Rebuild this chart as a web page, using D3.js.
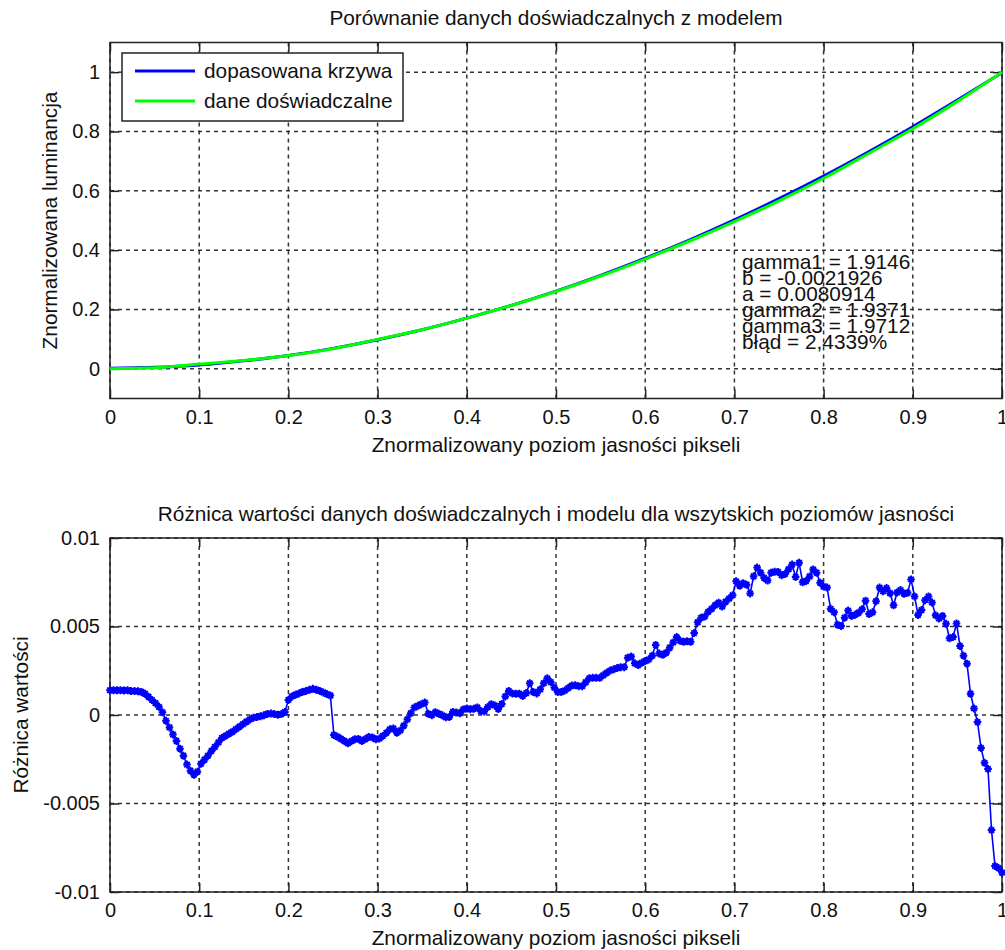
<!DOCTYPE html>
<html>
<head>
<meta charset="utf-8">
<script src="https://cdn.jsdelivr.net/npm/d3@7"></script>
<style>
html,body{margin:0;padding:0;background:#fff;}
svg{display:block;}
text{font-family:"Liberation Sans",Arial,Helvetica,sans-serif;fill:#111;}
</style>
</head>
<body>
<svg id="chart" width="1005" height="950"></svg>
<script>
// ---------- DATA ----------
const title1 = "Porównanie danych doświadczalnych z modelem";
const title2 = "Różnica wartości danych doświadczalnych i modelu dla wszytskich poziomów jasności";
const xLabel = "Znormalizowany poziom jasności pikseli";
const yLabel1 = "Znormalizowana luminancja";
const yLabel2 = "Różnica wartości";
const legendLabels = ["dopasowana krzywa", "dane doświadczalne"];
const annotation = ["gamma1 = 1.9146", "b = -0.0021926", "a = 0.0080914", "gamma2 = 1.9371", "gamma3 = 1.9712", "błąd = 2,4339%"];

const xTicks = [0, 0.1, 0.2, 0.3, 0.4, 0.5, 0.6, 0.7, 0.8, 0.9, 1];
const xTickLabels = ["0", "0.1", "0.2", "0.3", "0.4", "0.5", "0.6", "0.7", "0.8", "0.9", "1"];
const y1Ticks = [0, 0.2, 0.4, 0.6, 0.8, 1];
const y1TickLabels = ["0", "0.2", "0.4", "0.6", "0.8", "1"];
const y2Ticks = [-0.01, -0.005, 0, 0.005, 0.01];
const y2TickLabels = ["-0.01", "-0.005", "0", "0.005", "0.01"];

// top plot: sampled every 0.05
const curveX = [0, 0.05, 0.1, 0.15, 0.2, 0.25, 0.3, 0.35, 0.4, 0.45, 0.5, 0.55, 0.6, 0.65, 0.7, 0.75, 0.8, 0.85, 0.9, 0.95, 1];
const fittedCurve = [0.002, 0.005, 0.013, 0.027, 0.045, 0.069, 0.098, 0.132, 0.171, 0.214, 0.262, 0.315, 0.373, 0.435, 0.502, 0.574, 0.650, 0.731, 0.816, 0.906, 0.998];
const measuredCurve = [0.0006, 0.0038, 0.016, 0.0281, 0.0448, 0.0679, 0.0993, 0.1315, 0.171, 0.2136, 0.2607, 0.3129, 0.3701, 0.4309, 0.4962, 0.5662, 0.6424, 0.7252, 0.8091, 0.9015, 1.0];

// bottom plot: one value per pixel level 0..255
const pixelLevels = d3.range(256);
const difference = [
 0.00140, 0.00140, 0.00140, 0.00140, 0.00138, 0.00140, 0.00135, 0.00135, 0.00134, 0.00130, 0.00120, 0.00103, 0.00085, 0.00067, 0.00046, 0.00015,
 -0.00033, -0.00070, -0.00110, -0.00147, -0.00190, -0.00230, -0.00280, -0.00315, -0.00337, -0.00320, -0.00275, -0.00253, -0.00230, -0.00203, -0.00180, -0.00155,
 -0.00130, -0.00118, -0.00106, -0.00094, -0.00080, -0.00066, -0.00052, -0.00038, -0.00025, -0.00015, -0.00012, -0.00007, -0.00002, 0.00006, 0.00009, 0.00005,
 0.00002, 0.00005, 0.00017, 0.00085, 0.00105, 0.00115, 0.00122, 0.00130, 0.00136, 0.00142, 0.00148, 0.00143, 0.00136, 0.00127, 0.00118, 0.00110,
 -0.00113, -0.00123, -0.00134, -0.00147, -0.00160, -0.00148, -0.00137, -0.00135, -0.00147, -0.00136, -0.00124, -0.00127, -0.00137, -0.00133, -0.00118, -0.00101,
 -0.00081, -0.00076, -0.00100, -0.00087, -0.00060, -0.00025, 0.00010, 0.00042, 0.00052, 0.00061, 0.00070, 0.00007, -0.00001, 0.00016, 0.00007, -0.00002,
 -0.00013, -0.00011, 0.00017, 0.00014, 0.00010, 0.00031, 0.00037, 0.00032, 0.00036, 0.00043, 0.00022, 0.00020, 0.00045, 0.00061, 0.00054, 0.00034,
 0.00062, 0.00105, 0.00136, 0.00122, 0.00120, 0.00120, 0.00108, 0.00124, 0.00180, 0.00130, 0.00122, 0.00145, 0.00180, 0.00207, 0.00186, 0.00155,
 0.00130, 0.00130, 0.00138, 0.00152, 0.00166, 0.00168, 0.00163, 0.00163, 0.00185, 0.00207, 0.00210, 0.00210, 0.00210, 0.00224, 0.00238, 0.00251,
 0.00258, 0.00265, 0.00270, 0.00270, 0.00324, 0.00330, 0.00292, 0.00282, 0.00295, 0.00305, 0.00314, 0.00335, 0.00396, 0.00347, 0.00340, 0.00352,
 0.00380, 0.00410, 0.00440, 0.00419, 0.00414, 0.00417, 0.00414, 0.00463, 0.00524, 0.00550, 0.00556, 0.00583, 0.00600, 0.00620, 0.00634, 0.00613,
 0.00640, 0.00658, 0.00677, 0.00755, 0.00730, 0.00745, 0.00736, 0.00687, 0.00784, 0.00833, 0.00804, 0.00774, 0.00760, 0.00804, 0.00810, 0.00808,
 0.00790, 0.00797, 0.00824, 0.00850, 0.00780, 0.00860, 0.00750, 0.00757, 0.00783, 0.00822, 0.00804, 0.00747, 0.00726, 0.00720, 0.00600, 0.00580,
 0.00510, 0.00503, 0.00550, 0.00590, 0.00560, 0.00567, 0.00578, 0.00597, 0.00646, 0.00570, 0.00580, 0.00643, 0.00720, 0.00699, 0.00717, 0.00688,
 0.00620, 0.00692, 0.00706, 0.00685, 0.00690, 0.00766, 0.00670, 0.00565, 0.00593, 0.00649, 0.00670, 0.00635, 0.00563, 0.00545, 0.00560, 0.00515,
 0.00433, 0.00440, 0.00517, 0.00390, 0.00335, 0.00290, 0.00120, 0.00037, -0.00040, -0.00186, -0.00270, -0.00305, -0.00650, -0.00853, -0.00865, -0.00890
];

// ---------- DRAWING ----------
const svg = d3.select("#chart");
svg.append("rect").attr("width", 1005).attr("height", 950).attr("fill", "#fff");

const FONT = 20;      // tick labels
const TFONT = 20.8;   // titles, axis labels, legend, annotation
const areaTop = {l: 110, r: 1002, t: 42.5, b: 398.5};
const areaBot = {l: 110, r: 1002, t: 538, b: 892};

function frame(area, x, y, yTicks, yTickLabels, titleText, titleY, yLabelText, yLabelX) {
  const g = svg.append("g");
  // grid
  g.append("g").selectAll("line").data(xTicks).join("line")
    .attr("x1", d => x(d)).attr("x2", d => x(d))
    .attr("y1", area.t).attr("y2", area.b)
    .attr("stroke", "#333").attr("stroke-width", 1.5).attr("stroke-dasharray", "4,4");
  g.append("g").selectAll("line").data(yTicks).join("line")
    .attr("x1", area.l).attr("x2", area.r)
    .attr("y1", d => y(d)).attr("y2", d => y(d))
    .attr("stroke", "#333").attr("stroke-width", 1.5).attr("stroke-dasharray", "4,4");

  const ax = (gen, tx, ty) => {
    const a = g.append("g").attr("transform", `translate(${tx},${ty})`).call(gen);
    a.select(".domain").remove();
    a.selectAll(".tick line").attr("stroke", "#222").attr("stroke-width", 1.5);
    a.selectAll("text").attr("font-size", FONT).attr("font-family", "Liberation Sans, Arial, sans-serif").attr("fill", "#111");
    return a;
  };
  ax(d3.axisBottom(x).tickValues(xTicks).tickSize(-9).tickPadding(11)
      .tickFormat((d, i) => xTickLabels[i]), 0, area.b);
  ax(d3.axisTop(x).tickValues(xTicks).tickSize(-9).tickFormat(""), 0, area.t);
  ax(d3.axisLeft(y).tickValues(yTicks).tickSize(-9).tickPadding(10)
      .tickFormat((d, i) => yTickLabels[i]), area.l, 0);
  ax(d3.axisRight(y).tickValues(yTicks).tickSize(-9).tickFormat(""), area.r, 0);

  g.append("rect").attr("x", area.l).attr("y", area.t)
    .attr("width", area.r - area.l).attr("height", area.b - area.t)
    .attr("fill", "none").attr("stroke", "#222").attr("stroke-width", 1.5);

  const cx = (area.l + area.r) / 2;
  svg.append("text").attr("x", cx).attr("y", titleY).attr("text-anchor", "middle")
    .attr("font-size", TFONT).text(titleText);
  svg.append("text").attr("x", cx).attr("y", area.b + 53).attr("text-anchor", "middle")
    .attr("font-size", TFONT).text(xLabel);
  svg.append("text")
    .attr("transform", `translate(${yLabelX},${(area.t + area.b) / 2}) rotate(-90)`)
    .attr("text-anchor", "middle").attr("font-size", TFONT).text(yLabelText);
  return g;
}

// ---- Top plot ----
const x1 = d3.scaleLinear().domain([0, 1]).range([areaTop.l, areaTop.r]);
const y1 = d3.scaleLinear().domain([-0.1, 1.1]).range([areaTop.b, areaTop.t]);
frame(areaTop, x1, y1, y1Ticks, y1TickLabels, title1, 25, yLabel1, 57);

const line1 = d3.line().x(d => x1(d[0])).y(d => y1(d[1])).curve(d3.curveMonotoneX);
svg.append("path").datum(curveX.map((v, i) => [v, fittedCurve[i]]))
  .attr("d", line1).attr("fill", "none").attr("stroke", "#0000ff").attr("stroke-width", 3);
svg.append("path").datum(curveX.map((v, i) => [v, measuredCurve[i]]))
  .attr("d", line1).attr("fill", "none").attr("stroke", "#00ff00").attr("stroke-width", 3);

// annotation (lines overlap in the original figure)
annotation.forEach((t, i) => {
  svg.append("text").attr("x", 742).attr("y", 269 + i * 16).attr("font-size", TFONT).text(t);
});

// legend
const lg = svg.append("g");
lg.append("rect").attr("x", 122).attr("y", 53).attr("width", 281).attr("height", 68)
  .attr("fill", "#fff").attr("stroke", "#222").attr("stroke-width", 1.5);
const legendColors = ["#0000ff", "#00ff00"];
legendLabels.forEach((t, i) => {
  lg.append("line").attr("x1", 135).attr("x2", 195).attr("y1", 71 + i * 30).attr("y2", 71 + i * 30)
    .attr("stroke", legendColors[i]).attr("stroke-width", 3);
  lg.append("text").attr("x", 204).attr("y", 78 + i * 30).attr("font-size", TFONT).text(t);
});

// ---- Bottom plot ----
const x2 = d3.scaleLinear().domain([0, 1]).range([areaBot.l, areaBot.r]);
const y2 = d3.scaleLinear().domain([-0.01, 0.01]).range([areaBot.b, areaBot.t]);
frame(areaBot, x2, y2, y2Ticks, y2TickLabels, title2, 521, yLabel2, 28);

const pts = pixelLevels.map((p, i) => [p / 255, difference[i]]);
const line2 = d3.line().x(d => x2(d[0])).y(d => y2(d[1]));
svg.append("path").datum(pts).attr("d", line2).attr("fill", "none")
  .attr("stroke", "#0000ff").attr("stroke-width", 1.6);
const star = "M-3.8,0H3.8M0,-4V4M-2.7,-2.7L2.7,2.7M-2.7,2.7L2.7,-2.7";
svg.append("g").selectAll("path").data(pts).join("path")
  .attr("transform", d => `translate(${x2(d[0])},${y2(d[1])})`)
  .attr("d", star).attr("fill", "none").attr("stroke", "#0000ff").attr("stroke-width", 2);
</script>
</body>
</html>
